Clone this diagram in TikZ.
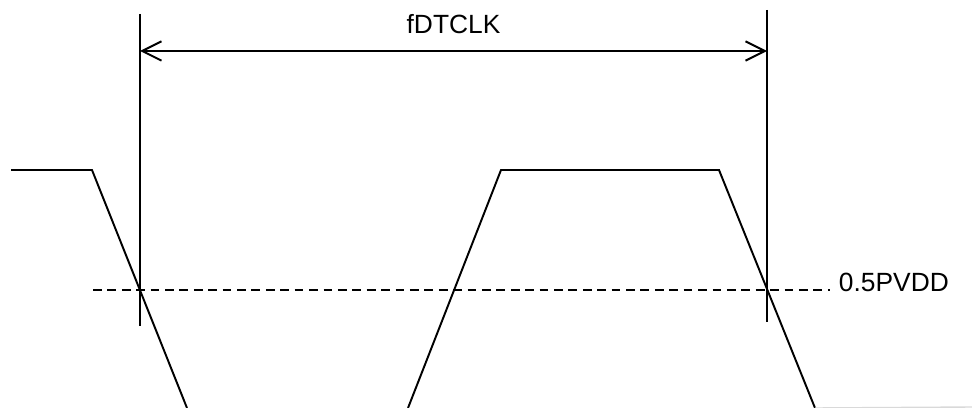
\documentclass[tikz,border=0pt]{standalone}
\usepackage{fontspec}
\setmainfont{Liberation Sans}
\usepackage{tikz}
\usetikzlibrary{arrows.meta}

\begin{document}
\begin{tikzpicture}[x=0.02cm,y=-0.02cm,line width=1.1pt,
	lbl/.style={font=\fontsize{15}{18}\selectfont,inner sep=0pt}]
	\useasboundingbox (0,0) rectangle (972,408);
	% clock waveform
	\coordinate (H0) at (11,170);
	\coordinate (H1) at (92,170);
	\coordinate (L1) at (187,408);
	\coordinate (L2) at (408,408);
	\coordinate (H2) at (501,170);
	\coordinate (H3) at (719,170);
	\coordinate (L3) at (815,408);
	\draw[line join=miter] (H0) -- (H1) -- (L1);
	\draw[line join=miter] (L2) -- (H2) -- (H3) -- (L3);
	\draw[black!15,line width=0.8pt] (L3) -- (972,407);
	%
	\coordinate (Mid0) at (93,290);
	\coordinate (Mid1) at (830,290);
	\draw[line width=0.9pt,dash pattern=on 5pt off 3.2pt] (Mid0) -- (Mid1);
	\node[lbl,anchor=west] (VDD) at (838,282) {0.5PVDD};
	%
	\coordinate (T1) at (140,14);
	\coordinate (B1) at (140,326);
	\coordinate (T2) at (767,10);
	\coordinate (B2) at (767,322);
	\draw (T1) -- (B1);
	\draw (T2) -- (B2);
	%
	\coordinate (A1) at (140,51);
	\coordinate (A2) at (767,51);
	\path[{Straight Barb[length=11pt,width=11pt]}-{Straight Barb[length=11pt,width=11pt]}]
	(A1) edge node[lbl,above=9pt]{fDTCLK} (A2);
\end{tikzpicture}
\end{document}
